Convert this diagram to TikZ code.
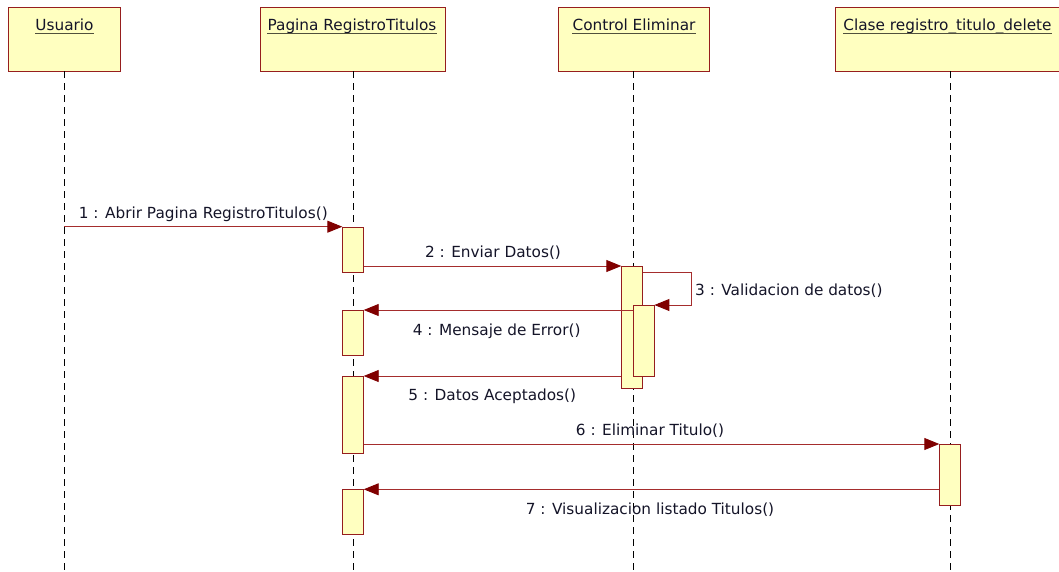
\documentclass[tikz,border=0pt]{standalone}
\usepackage{fontspec}
\setmainfont{DejaVu Sans}
\usetikzlibrary{arrows.meta}
\definecolor{actfill}{RGB}{255,255,192}
\definecolor{bord}{RGB}{150,30,30}
\definecolor{msgline}{RGB}{165,45,45}
\definecolor{tipc}{RGB}{128,0,0}
\definecolor{txt}{RGB}{20,20,40}
\definecolor{ulc}{RGB}{80,80,60}
\begin{document}
\begin{tikzpicture}[x=1pt,y=-1pt,
  objbox/.style={draw=bord, fill=actfill, line width=0.9pt, minimum height=64pt, inner sep=0pt, anchor=north west},
  title/.style={inner sep=0pt, anchor=base, text=txt, font=\fontsize{15.3}{17}\selectfont},
  uline/.style={draw=ulc, line width=0.9pt},
  lifeline/.style={draw=black, line width=0.8pt, dash pattern=on 7pt off 5pt},
  act/.style={draw=bord, fill=actfill, line width=0.9pt, minimum width=20.5pt, inner sep=0pt, anchor=north},
  msg/.style={draw=msgline, line width=0.9pt, -{Triangle[length=15pt,width=12pt,color=tipc]}},
  msglabel/.style={inner sep=0pt, anchor=base, text=txt, font=\fontsize{15.3}{17}\selectfont}]
\clip (0,0) rectangle (1059,571);
\coordinate (bot) at (0,571);
% header boxes
\node[objbox, minimum width=112pt] (bu) at (8,7.3) {};
\node[objbox, minimum width=185pt] (bp) at (259.5,7.3) {};
\node[objbox, minimum width=151pt] (bc) at (558,7.3) {};
\node[objbox, minimum width=230pt] (bk) at (835,7.3) {};
% lifeline tops
\coordinate (lu) at (64.3,71.3);
\coordinate (lp) at (353.3,71.3);
\coordinate (lc) at (633.5,71.3);
\coordinate (lk) at (950.3,71.3);
\draw[lifeline] (lu) -- (lu |- bot);
\draw[lifeline] (lp) -- (lp |- bot);
\draw[lifeline] (lc) -- (lc |- bot);
\draw[lifeline] (lk) -- (lk |- bot);
% titles
\node[title] (tu) at (64.5,30) {Usuario};
\node[title] (tp) at (352,30) {Pagina RegistroTitulos};
\node[title] (tc) at (634,30) {Control Eliminar};
\node[title] (tk) at (947.5,30) {Clase registro\_titulo\_delete};
\foreach \t in {tu,tp,tc,tk}
  \draw[uline] ([yshift=-3pt]\t.base west) -- ([yshift=-3pt]\t.base east);
% activations
\node[act, minimum height=45.6pt] (a1) at (353,226.7) {};
\node[act, minimum height=45pt] (a2) at (353,310) {};
\node[act, minimum height=76.7pt] (a3) at (353,376) {};
\node[act, minimum height=44.7pt] (a4) at (353,489.3) {};
\node[act, minimum height=122pt] (c1) at (632,266) {};
\node[act, minimum height=71pt] (c2) at (643.7,305) {};
\node[act, minimum height=61pt] (k1) at (950,444) {};
% messages
\draw[msg] (lu |- a1.north) -- (a1.north west);
\draw[msg] (a1.east |- c1.north) -- (c1.north west);
\coordinate (s3) at (691.7,272.3);
\draw[msg] (c1.east |- s3) -- (s3) |- (c2.north east);
\draw[msg] (c2.west |- a2.north) -- (a2.north east);
\draw[msg] (c1.west |- a3.north) -- (a3.north east);
\draw[msg] (a3.east |- k1.north) -- (k1.north west);
\draw[msg] (k1.west |- a4.north) -- (a4.north east);
% labels
\node[msglabel] (l1) at (203.3,218.3) {1 : Abrir Pagina RegistroTitulos()};
\node[msglabel] (l2) at (493,257.6) {2 : Enviar Datos()};
\node[msglabel, anchor=base west] (l3) at (695,295.7) {3 : Validacion de datos()};
\node[msglabel] (l4) at (496.7,335) {4 : Mensaje de Error()};
\node[msglabel] (l5) at (492.3,400.7) {5 : Datos Aceptados()};
\node[msglabel] (l6) at (650,435.7) {6 : Eliminar Titulo()};
\node[msglabel] (l7) at (650,514) {7 : Visualizacion listado Titulos()};
\end{tikzpicture}
\end{document}
